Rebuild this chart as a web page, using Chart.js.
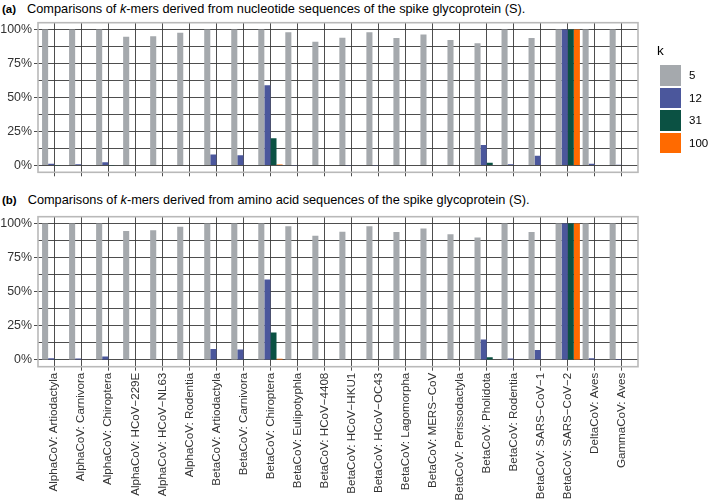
<!DOCTYPE html>
<html><head><meta charset="utf-8">
<script src="https://cdn.jsdelivr.net/npm/chart.js@4.4.1/dist/chart.umd.min.js"></script>
<style>
body{margin:0;background:#fff;}
#wrap{position:relative;width:709px;height:504px;overflow:hidden;font-family:"Liberation Sans",Arial,Helvetica,sans-serif;color:#000;}
canvas{position:absolute;left:0;}
.title{position:absolute;left:2px;font-size:12.75px;white-space:nowrap;line-height:14px;}
.title b{font-size:11.5px;margin-right:11px;}
#legend{position:absolute;left:656px;top:44px;}
#legend .lt{font-size:13.5px;line-height:14px;margin-bottom:6px;padding-left:1px;}
#legend .row{display:flex;align-items:center;height:22.5px;}
#legend .key{width:21px;height:20.5px;margin-left:4px;}
#legend .lab{font-size:11.5px;margin-left:8px;}
</style></head>
<body><div id="wrap">
<div class="title" style="top:2px"><b>(a)</b>Comparisons of <i>k</i>-mers derived from nucleotide sequences of the spike glycoprotein (S).</div>
<div class="title" style="top:193px"><b>(b)</b>Comparisons of <i>k</i>-mers derived from amino acid sequences of the spike glycoprotein (S).</div>
<canvas id="ca" width="709" height="190" style="top:0"></canvas>
<canvas id="cb" width="709" height="314" style="top:190px"></canvas>
<div id="legend"></div>
</div>
<script>
const categories = ["AlphaCoV: Artiodactyla","AlphaCoV: Carnivora","AlphaCoV: Chiroptera","AlphaCoV: HCoV\u2212229E","AlphaCoV: HCoV\u2212NL63","AlphaCoV: Rodentia","BetaCoV: Artiodactyla","BetaCoV: Carnivora","BetaCoV: Chiroptera","BetaCoV: Eulipotyphla","BetaCoV: HCoV\u22124408","BetaCoV: HCoV\u2212HKU1","BetaCoV: HCoV\u2212OC43","BetaCoV: Lagomorpha","BetaCoV: MERS\u2212CoV","BetaCoV: Perissodactyla","BetaCoV: Pholidota","BetaCoV: Rodentia","BetaCoV: SARS\u2212CoV\u22121","BetaCoV: SARS\u2212CoV\u22122","DeltaCoV: Aves","GammaCoV: Aves"];
const kValues = ["5","12","31","100"];
const kColors = ["#A5A9AD","#4B579C","#0B5143","#FF6A00"];
const yTickValues = [0,12.5,25,37.5,50,62.5,75,87.5,100];

// (a) nucleotide sequences
const ntK5   = [100,100,100,94.6,95.1,97.6,100,100,100,98,91,93.9,98,93.7,96.3,92.2,89.8,100,93.7,100,100,100];
const ntK12  = [1.2,1.0,2.4,0,0,0,8,7.6,59,0.2,0,0.2,0.2,0,0,0.3,15,1,7.2,100,1.2,0.6];
const ntK31  = [0.1,0,0.2,0,0,0,0.3,0.4,20,0,0,0,0,0,0,0,2,0,0.3,100,0,0];
const ntK100 = [0,0,0,0,0,0,0,0,0.8,0,0,0,0,0,0,0,0,0,0,100,0,0];

// (b) amino acid sequences
const aaK5   = [100,100,100,94.6,95.1,97.6,100,100,100,98,91,93.9,98,93.7,96.3,92.2,89.8,100,93.7,100,100,100];
const aaK12  = [1.2,1.0,2.4,0,0,0,8,7.6,59,0.2,0,0.2,0.2,0,0,0.3,15,1,7.2,100,1.2,0.6];
const aaK31  = [0.1,0,0.2,0,0,0,0.3,0.4,20,0,0,0,0,0,0,0,2,0,0.3,100,0,0];
const aaK100 = [0,0,0,0,0,0,0,0,0.8,0,0,0,0,0,0,0,0,0,0,100,0,0];

const FONT = '"Liberation Sans", Arial, Helvetica, sans-serif';
const GRID = '#3a3a3a';

const panelBorder = {
  id:'panelBorder',
  beforeDatasetsDraw(chart){
    const {ctx, chartArea:a} = chart;
    ctx.save();
    ctx.strokeStyle = '#b9b9b9';
    ctx.lineWidth = 1.6;
    ctx.strokeRect(a.left, a.top, a.right - a.left, a.bottom - a.top);
    ctx.restore();
  }
};

function makeChart(id, series, showLabels, padTop, xHeight){
  return new Chart(document.getElementById(id), {
    type:'bar',
    data:{
      datasets: series.map((vals, si) => ({
        label: kValues[si],
        data: vals.map((v, i) => ({x:i, y:v})),
        backgroundColor: kColors[si],
        borderWidth: 0,
        categoryPercentage: 0.9,
        barPercentage: 1.0
      }))
    },
    options:{
      responsive:false,
      animation:false,
      events:[],
      layout:{padding:{left:0, right:71, top:padTop, bottom:0}},
      plugins:{legend:{display:false}, tooltip:{enabled:false}, title:{display:false}},
      scales:{
        x:{
          type:'linear', min:-0.6, max:categories.length - 0.4, offset:false,
          afterBuildTicks: s => { s.ticks = categories.map((c, i) => ({value:i})); },
          afterFit: s => { s.height = xHeight; },
          ticks:{display:showLabels, autoSkip:false, minRotation:90, maxRotation:90,
                 callback: v => categories[v], font:{family:FONT, size:11.6}, color:'#333', padding:2},
          grid:{color:GRID, lineWidth:0.9, tickLength:4, tickColor:GRID, offset:false},
          border:{display:false}
        },
        y:{
          min:-5, max:105,
          afterBuildTicks: s => { s.ticks = yTickValues.map(v => ({value:v})); },
          afterFit: s => { s.width = 38; },
          ticks:{callback: v => (v % 25 === 0 ? v + '%' : ''), font:{family:FONT, size:12.4}, color:'#333', padding:2},
          grid:{color:GRID, lineWidth:0.9, tickLength:4,
                tickColor: c => (c.tick && c.tick.value % 25 === 0 ? GRID : 'rgba(0,0,0,0)')},
          border:{display:false}
        }
      }
    },
    plugins:[panelBorder]
  });
}

makeChart('ca', [ntK5, ntK12, ntK31, ntK100], false, 22.7, 17.7);
makeChart('cb', [aaK5, aaK12, aaK31, aaK100], true, 26.7, 137.3);

const lg = document.getElementById('legend');
let html = '<div class="lt">k</div>';
kValues.forEach((k, i) => {
  html += '<div class="row"><div class="key" style="background:' + kColors[i] + '"></div><div class="lab">' + k + '</div></div>';
});
lg.innerHTML = html;
</script>
</body></html>
